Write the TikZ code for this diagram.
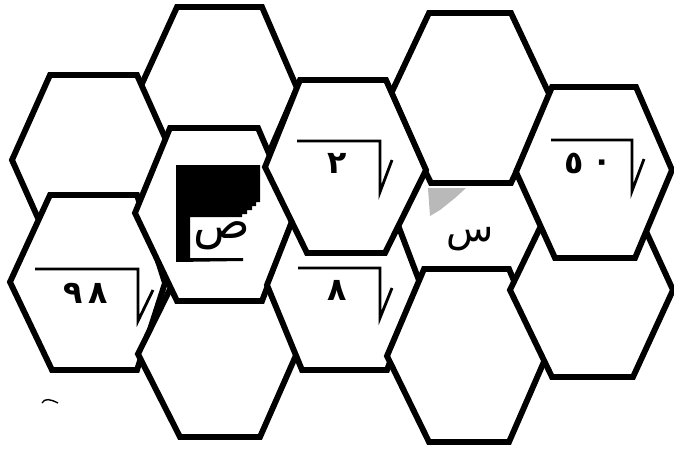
\documentclass[tikz,border=0pt]{standalone}
\usepackage{fontspec}
\TeXXeTstate=1
\newfontfamily\arabicfont[Script=Arabic]{DejaVu Sans}
\newfontfamily\digitfont{DejaVu Sans}
\begin{document}
\begin{tikzpicture}[x=0.03cm,y=-0.03cm,
  hexcell/.style={draw=black,fill=white,line width=5pt,line join=miter},
  radical/.style={draw=black,line width=2.4pt,line join=miter},
  digit/.style={font=\digitfont\bfseries\fontsize{27}{31}\selectfont,inner sep=0pt},
  letter/.style={inner sep=0pt,font=\arabicfont\fontsize{40}{46}\selectfont}]
\useasboundingbox (0,0) rectangle (674,448);
\fill[white] (0,0) rectangle (674,448);
% hexagons, back to front
\draw[hexcell] (177,7) -- (262,7) -- (297,88) -- (262,169) -- (177,169) -- (140,88) -- cycle;      % T1
\draw[hexcell] (50,75) -- (137,75) -- (175,160) -- (137,245) -- (50,245) -- (12,160) -- cycle;     % L1
\draw[hexcell] (50,195) -- (137,195) -- (165,283) -- (137,370) -- (52,370) -- (10,282) -- cycle;   % L2 (98)
\draw[hexcell] (180,269) -- (260,269) -- (297,353) -- (260,437) -- (180,437) -- (138,354) -- cycle; % B2
\draw[hexcell] (170,128) -- (258,128) -- (295,214) -- (262,301) -- (177,301) -- (135,213) -- cycle; % C2
\draw[hexcell] (429,13) -- (511,13) -- (551,98) -- (511,183) -- (431,183) -- (389,98) -- cycle;     % T2
\draw[hexcell] (302,196) -- (387,196) -- (420,283) -- (387,370) -- (302,370) -- (267,285) -- cycle; % 8
\draw[hexcell] (300,80) -- (386,80) -- (426,170) -- (385,253) -- (307,253) -- (265,167) -- cycle;   % 2
\draw[hexcell] (424,269) -- (509,269) -- (546,357) -- (509,442) -- (429,442) -- (387,356) -- cycle; % B4
\draw[hexcell] (552,203) -- (633,203) -- (673,290) -- (633,377) -- (552,377) -- (510,290) -- cycle; % R2
\draw[hexcell] (552,87) -- (636,87) -- (672,170) -- (635,258) -- (555,258) -- (516,172) -- cycle;   % R1 (50)

% dark box with sad
\fill[black] (176,165) -- (260,165) -- (260,202) -- (256,202) -- (256,206) -- (252,206) -- (252,210)
  -- (247,210) -- (247,214) -- (242,214) -- (242,217) -- (190,217) -- (190,258) -- (243,258)
  -- (243,261) -- (176,262) -- cycle;
\node[letter] (sad) at (222,236) {\beginR ص\endR};

% grey patch and seen
\fill[gray!55] (428,188) -- (466,188) -- (455,198) -- (440,210) -- (430,216) -- cycle;
\node[letter,font=\arabicfont\fontsize{33}{39}\selectfont] (seen) at (470,239) {\beginR س\endR};

% radical labels
\coordinate (r2a) at (297,141); \coordinate (r2b) at (380,141); \coordinate (r2c) at (380,192); \coordinate (r2d) at (392,160);
\draw[radical] (r2a) -- (r2b) -- (r2c) -- (r2d);
\node[digit] (two) at (337,163) {٢};

\coordinate (r8a) at (298,268); \coordinate (r8b) at (380,268); \coordinate (r8c) at (380,318); \coordinate (r8d) at (392,288);
\draw[radical] (r8a) -- (r8b) -- (r8c) -- (r8d);
\node[digit] (eight) at (337,290) {٨};

\coordinate (r98a) at (35,269); \coordinate (r98b) at (138,269); \coordinate (r98c) at (138,321); \coordinate (r98d) at (153,290);
\draw[radical] (r98a) -- (r98b) -- (r98c) -- (r98d);
\node[digit] (nine) at (73,293) {٩};
\node[digit] (eightb) at (98,293) {٨};

\coordinate (r50a) at (551,140); \coordinate (r50b) at (632,140); \coordinate (r50c) at (632,191); \coordinate (r50d) at (644,159);
\draw[radical] (r50a) -- (r50b) -- (r50c) -- (r50d);
\node[digit] (five) at (574,163) {٥};
\node[digit] (zero) at (602,166) {٠};

% small stray mark
\coordinate (m1) at (42,403); \coordinate (m2) at (58,403);
\draw[line width=1.2pt] (m1) .. controls (45,398) and (50,399) .. (m2);
\end{tikzpicture}
\end{document}
